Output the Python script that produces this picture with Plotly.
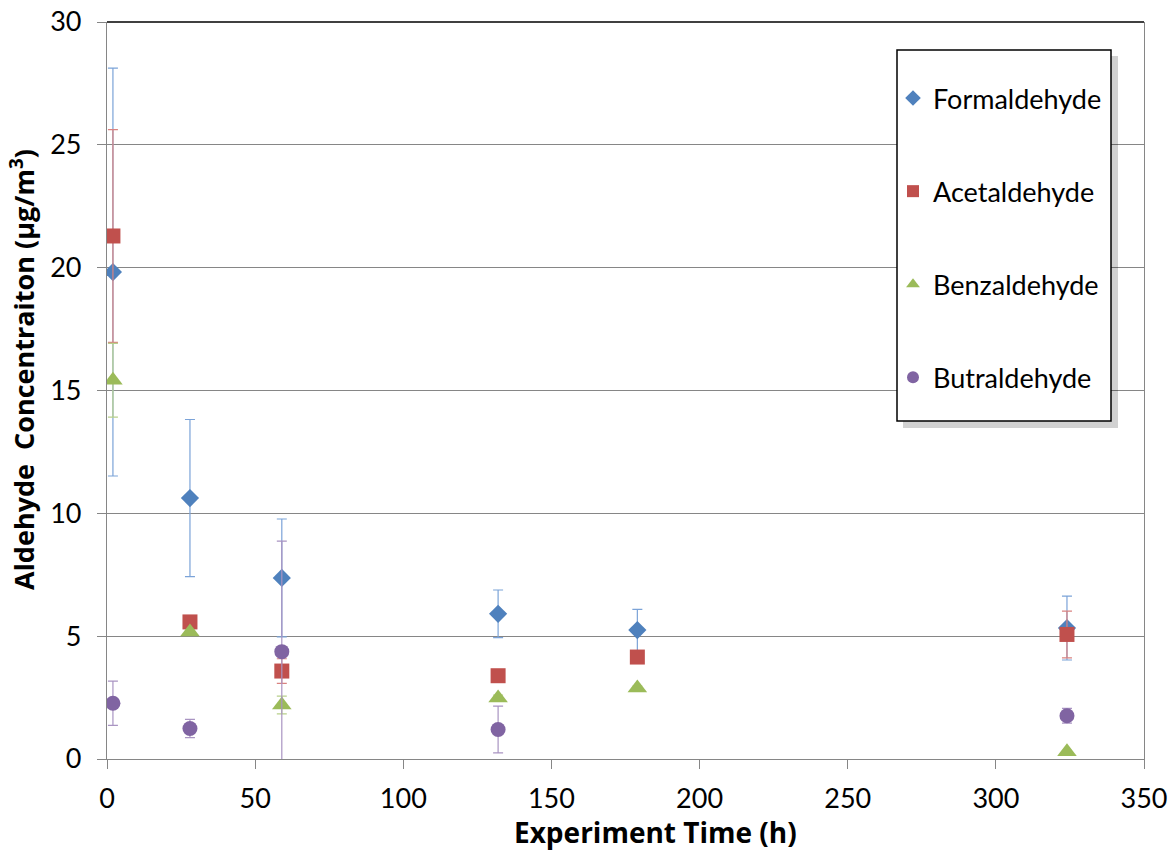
import plotly.graph_objects as go

# ---- data ----
form_x = [2, 28, 59, 132, 179, 324]
form_y = [19.82, 10.62, 7.37, 5.91, 5.25, 5.33]
form_err = [8.3, 3.2, 2.4, 0.97, 0.84, 1.3]

acet_x = [2, 28, 59, 132, 179, 324]
acet_y = [21.29, 5.58, 3.58, 3.39, 4.15, 5.07]
acet_err = [4.33, 0.1, 0.5, 0.12, 0.1, 0.95]

benz_x = [2, 28, 59, 132, 179, 324]
benz_y = [15.42, 5.17, 2.2, 2.48, 2.89, 0.3]
benz_err = [1.5, 0.1, 0.36, 0.12, 0.08, 0.05]

butr_x = [2, 28, 59, 132, 324]
butr_y = [2.27, 1.24, 4.37, 1.2, 1.76]
butr_err = [0.9, 0.37, 4.5, 0.95, 0.3]

x_title = "<b>Experiment Time (h)</b>"
y_title = "<b>Aldehyde  Concentraiton (µg/m<sup>3</sup>)</b>"

series = [
    ("Formaldehyde", form_x, form_y, form_err, "#4F81BD", "#7BA3D8", "diamond", 14),
    ("Acetaldehyde", acet_x, acet_y, acet_err, "#C0504D", "#D98280", "square", 15),
    ("Benzaldehyde", benz_x, benz_y, benz_err, "#9BBB59", "#B8D08A", "triangle-up", 17),
    ("Butraldehyde", butr_x, butr_y, butr_err, "#8064A2", "#A994C2", "circle", 15),
]

FONT = "Lato, 'Open Sans', sans-serif"
TFONT = "'Open Sans', Lato, sans-serif"

fig = go.Figure()
for i, (name, xs, ys, errs, col, ecol, sym, sz) in enumerate(series):
    fig.add_trace(go.Scatter(
        x=xs, y=ys, mode="markers", name=name, legendgroup=name,
        marker=dict(symbol=sym, size=sz, color=col, line=dict(width=0)),
        error_y=dict(type="data", array=errs, visible=True, color=ecol,
                     thickness=1.2, width=5),
        cliponaxis=True,
    ))

# legend box with shadow (paper coords relative to plot area 1037x737)
fig.add_shape(type="rect", xref="paper", yref="paper",
              x0=(903 - 107) / 1037, x1=(1118 - 107) / 1037,
              y0=(759 - 428) / 737, y1=(759 - 56) / 737,
              fillcolor="rgba(0,0,0,0.18)", line=dict(width=0), layer="above")
fig.add_shape(type="rect", xref="paper", yref="paper",
              x0=(897 - 107) / 1037, x1=(1111 - 107) / 1037,
              y0=(759 - 421) / 737, y1=(759 - 50) / 737,
              fillcolor="white", line=dict(color="black", width=1.5), layer="above")
# top border line
fig.add_shape(type="line", xref="paper", yref="paper", x0=0, x1=1, y0=1, y1=1,
              line=dict(color="black", width=1.5))

# axis titles as annotations (offset like the reference)
fig.add_annotation(text=x_title, xref="paper", yref="paper",
                   x=(655 - 107) / 1037, y=(759 - 832) / 737,
                   xanchor="center", yanchor="middle", showarrow=False,
                   font=dict(family=TFONT, size=28, color="black"))
fig.add_annotation(text=y_title, xref="paper", yref="paper",
                   x=(23 - 107) / 1037, y=(759 - 370) / 737, textangle=-90,
                   xanchor="center", yanchor="middle", showarrow=False,
                   font=dict(family=TFONT, size=27, color="black"))

fig.update_layout(
    width=1171, height=852,
    margin=dict(l=107, r=27, t=22, b=93, autoexpand=False),
    paper_bgcolor="white", plot_bgcolor="white",
    font=dict(family=FONT, color="black", size=27),
    showlegend=True,
    legend=dict(
        x=(893 - 107) / 1037, y=(759 - 74) / 737, xanchor="left", yanchor="top",
        bgcolor="rgba(0,0,0,0)", borderwidth=0,
        font=dict(family=FONT, size=27, color="black"),
        tracegroupgap=55, itemsizing="constant",
    ),
    xaxis=dict(
        range=[0, 350], tickmode="linear", tick0=0, dtick=50,
        showgrid=False, zeroline=False, automargin=False,
        showline=True, linecolor="#868686", linewidth=1.2,
        ticks="outside", ticklen=9, tickcolor="#868686",
        tickfont=dict(size=27), ticklabelstandoff=6, ticklabeloverflow="allow",
    ),
    yaxis=dict(
        range=[0, 30], tickmode="linear", tick0=0, dtick=5,
        showgrid=True, gridcolor="#868686", gridwidth=1,
        zeroline=False, automargin=False,
        showline=True, linecolor="#868686", linewidth=1.2, mirror=True,
        ticks="outside", ticklen=9, tickcolor="#868686",
        tickfont=dict(size=27), ticklabelstandoff=10, ticklabeloverflow="allow",
    ),
)

fig.write_html("out.html", config={"displayModeBar": False},
               post_script="document.body.style.margin='0';")
